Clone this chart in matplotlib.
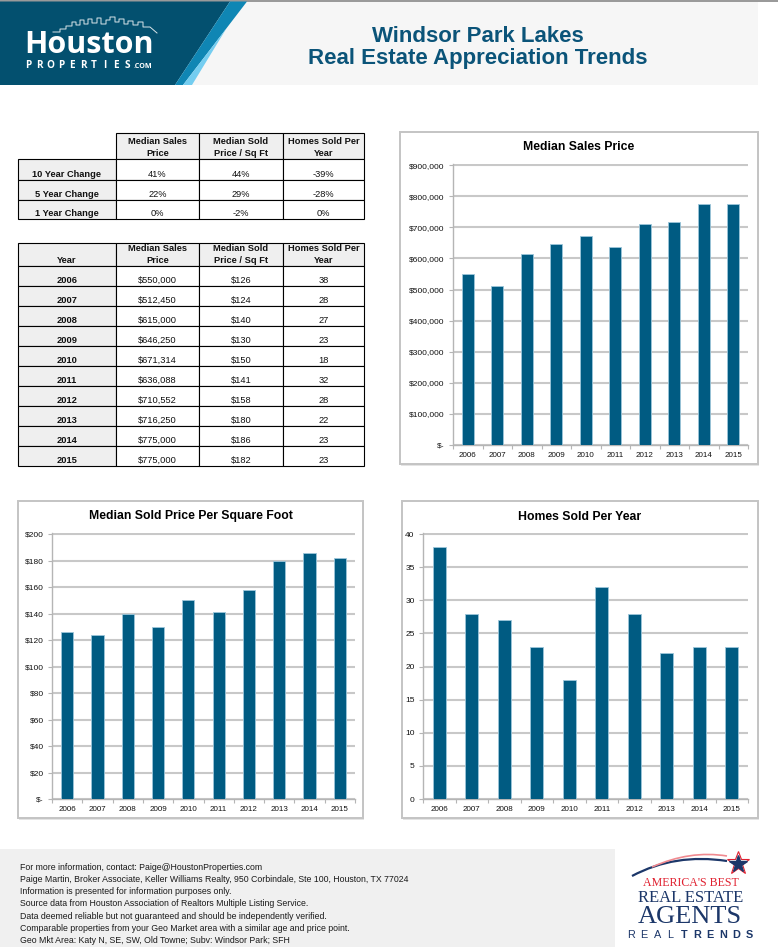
import matplotlib
matplotlib.use("Agg")
import matplotlib.pyplot as plt
from matplotlib.patches import Rectangle, Polygon, PathPatch
from matplotlib.path import Path
from matplotlib.ticker import FuncFormatter, MultipleLocator, FixedLocator
import numpy as np

# ---------------- data ----------------
years = ["2006", "2007", "2008", "2009", "2010", "2011", "2012", "2013", "2014", "2015"]
median_price = [550000, 512450, 615000, 646250, 671314, 636088, 710552, 716250, 775000, 775000]
price_per_sqft = [126, 124, 140, 130, 150, 141, 158, 180, 186, 182]
homes_sold = [38, 28, 27, 23, 18, 32, 28, 22, 23, 23]

change_labels = ["10 Year Change", "5 Year Change", "1 Year Change"]
change_price = [41, 22, 0]
change_sqft = [44, 29, -2]
change_homes = [-39, -28, 0]

column_headers = ["Median Sales\nPrice", "Median Sold\nPrice / Sq Ft", "Homes Sold Per\nYear"]

title_lines = ["Windsor Park Lakes", "Real Estate Appreciation Trends"]
chart_titles = ["Median Sales Price", "Median Sold Price Per Square Foot", "Homes Sold Per Year"]

footer_lines = [
    "For more information, contact: Paige@HoustonProperties.com",
    "Paige Martin, Broker Associate, Keller Williams Realty, 950 Corbindale, Ste 100, Houston, TX 77024",
    "Information is presented for information purposes only.",
    "Source data from Houston Association of Realtors Multiple Listing Service.",
    "Data deemed reliable but not guaranteed and should be independently verified.",
    "Comparable properties from your Geo Market area with a similar age and price point.",
    "Geo Mkt Area: Katy N, SE, SW, Old Towne; Subv: Windsor Park; SFH",
]

# ---------------- style ----------------
W, H = 778, 947
BAR = "#005b82"
TITLE_BLUE = "#0b5479"
TEAL = "#03506f"
SANS = "Liberation Sans"
SERIF = "Liberation Serif"

plt.rcParams["font.family"] = [SANS, "DejaVu Sans"]

fig = plt.figure(figsize=(W / 100, H / 100), dpi=100)
fig.patch.set_facecolor("white")

bg = fig.add_axes([0, 0, 1, 1])
bg.set_xlim(0, W)
bg.set_ylim(H, 0)
bg.axis("off")


def px_rect(x0, y0, x1, y1):
    return [x0 / W, 1 - y1 / H, (x1 - x0) / W, (y1 - y0) / H]


# ---------------- header ----------------
bg.add_patch(Rectangle((0, 1.5), 758, 83.5, facecolor="#f6f6f6", edgecolor="none"))
bg.add_patch(Rectangle((0, 0), W, 1.6, facecolor="#9a9a9a", edgecolor="none"))
bg.add_patch(Polygon([(0, 1.5), (230, 1.5), (175, 85), (0, 85)], closed=True,
                     facecolor=TEAL, edgecolor="none"))
bg.add_patch(Polygon([(230, 1.5), (247, 1.5), (183, 85), (175, 85)], closed=True,
                     facecolor="#0f86b4", edgecolor="none"))
bg.add_patch(Polygon([(226.7, 28), (183, 85), (192, 85)], closed=True,
                     facecolor="#74cdf0", edgecolor="none"))

# skyline outline (decoration)
sky_x = [53, 60, 60, 66, 66, 72, 72, 76, 76, 80, 80, 84, 84, 88, 88, 92, 92, 97, 97, 101, 101,
         106, 106, 110, 110, 115, 115, 119, 119, 124, 124, 128, 128, 133, 133, 138, 138, 143,
         143, 150, 157]
sky_y = [32, 32, 29, 29, 26, 26, 22, 22, 25, 25, 20, 20, 24, 24, 19, 19, 23, 23, 18, 18, 24,
         24, 20, 20, 17, 17, 22, 22, 19, 19, 24, 24, 21, 21, 25, 25, 22, 22, 27, 27, 33]
bg.plot(sky_x, sky_y, color="white", lw=0.7, alpha=0.85)

bg.text(24, 53, "Houston", fontsize=22, weight="bold", color="white",
        family="Open Sans", va="baseline", ha="left")
for i, ch in enumerate("PROPERTIES"):
    bg.text(28 + i * 11.0, 67.5, ch, fontsize=7.2, weight="bold", color="white",
            family="Open Sans", va="baseline", ha="center")
bg.text(134, 67.5, ".COM", fontsize=5.2, weight="bold", color="white",
        family="Open Sans", va="baseline", ha="left")

bg.text(478, 36, title_lines[0], fontsize=16, weight="bold", color=TITLE_BLUE,
        ha="center", va="center", family=SANS)
bg.text(478, 58, title_lines[1], fontsize=16, weight="bold", color=TITLE_BLUE,
        ha="center", va="center", family=SANS)


# ---------------- tables ----------------
def draw_table(x_edges, y_edges, rows, blank_corner):
    for r in range(len(rows)):
        for c in range(len(rows[r])):
            if blank_corner and r == 0 and c == 0:
                continue
            x0, x1 = x_edges[c], x_edges[c + 1]
            y0, y1 = y_edges[r], y_edges[r + 1]
            face = "#efefef" if (r == 0 or c == 0) else "white"
            bg.add_patch(Rectangle((x0, y0), x1 - x0, y1 - y0, facecolor=face,
                                   edgecolor="black", lw=0.8))
            bold = (r == 0 or c == 0)
            lines = rows[r][c].split("\n")
            base = y1 - 3.5
            for k, line in enumerate(reversed(lines)):
                bg.text((x0 + x1) / 2, base - k * 11.5, line, ha="center", va="baseline",
                        fontsize=6.7, weight="bold" if bold else "normal", color="#111111")


col_edges = [18, 116, 199, 283, 364]

t1_rows = [[""] + column_headers]
for lab, a, b, c in zip(change_labels, change_price, change_sqft, change_homes):
    t1_rows.append([lab, f"{a}%", f"{b}%", f"{c}%"])
draw_table(col_edges, [133, 159, 180, 200, 219], t1_rows, blank_corner=True)

t2_rows = [["Year"] + column_headers]
for y, p, s, h in zip(years, median_price, price_per_sqft, homes_sold):
    t2_rows.append([y, f"${p:,}", f"${s}", f"{h}"])
t2_edges = [243] + [266 + 20 * i for i in range(len(years) + 1)]
draw_table(col_edges, t2_edges, t2_rows, blank_corner=False)


# ---------------- charts ----------------
def money(v, pos=None):
    return "$-" if v == 0 else f"${v:,.0f}"


def plain(v, pos=None):
    return f"{v:.0f}"


def bar_chart(plot_px, frame_px, title, title_y, values, ymax, step, fmt):
    fx0, fy0, fx1, fy1 = frame_px
    # shadow + frame
    bg.add_patch(Rectangle((fx0 + 1.5, fy0 + 1.5), fx1 - fx0, fy1 - fy0,
                           facecolor="#e4e4e4", edgecolor="none"))
    bg.add_patch(Rectangle((fx0, fy0), fx1 - fx0, fy1 - fy0, facecolor="white",
                           edgecolor="#c4c4c4", lw=1.4))
    bg.text((fx0 + fx1) / 2, title_y, title, ha="center", va="center", fontsize=8.8,
            weight="bold", color="black")

    ax = fig.add_axes(px_rect(*plot_px))
    ax.patch.set_alpha(0)
    x = np.arange(len(years))
    ax.bar(x, values, width=0.4, color=BAR, edgecolor="#9cc6da", linewidth=0.6, zorder=3)
    ax.set_xlim(-0.5, len(years) - 0.5)
    ax.set_ylim(0, ymax * 1.004)
    ax.yaxis.set_major_locator(MultipleLocator(step))
    ax.yaxis.set_major_formatter(FuncFormatter(fmt))
    ax.set_xticks(x)
    ax.set_xticklabels(years)
    ax.xaxis.set_minor_locator(FixedLocator(np.arange(-0.5, len(years), 1.0)))
    ax.tick_params(axis="x", which="major", length=0, pad=5, labelsize=5.8, labelcolor="#111111")
    ax.tick_params(axis="x", which="minor", length=3, width=0.8, color="#b5b5b5", direction="out")
    ax.tick_params(axis="y", length=3, width=0.8, color="#b5b5b5", pad=3, labelsize=6,
                   labelcolor="#111111")
    ax.grid(axis="y", color="#c8c8c8", lw=1.5, zorder=0)
    ax.set_axisbelow(True)
    for s in ["top", "right"]:
        ax.spines[s].set_visible(False)
    for s in ["left", "bottom"]:
        ax.spines[s].set_color("#b5b5b5")
        ax.spines[s].set_linewidth(1.0)
    return ax


bar_chart((453, 164, 748, 445), (400, 132, 758, 464), chart_titles[0], 147,
          median_price, 900000, 100000, money)
bar_chart((52, 533, 355, 799), (18, 501, 363, 818), chart_titles[1], 516,
          price_per_sqft, 200, 20, money)
bar_chart((423, 533, 748, 799), (402, 501, 758, 818), chart_titles[2], 517,
          homes_sold, 40, 5, plain)

# ---------------- footer ----------------
bg.add_patch(Rectangle((0, 849), 615, H - 849, facecolor="#f0f0f0", edgecolor="none"))
for i, line in enumerate(footer_lines):
    bg.text(20, 870 + i * 12.15, line, fontsize=6.35, color="#1a1a1a", va="baseline", ha="left")

# America's Best logo (decoration)
swoosh_navy = Path([(632, 876), (675, 853), (727, 861)], [Path.MOVETO, Path.CURVE3, Path.CURVE3])
swoosh_red = Path([(652, 867), (690, 850), (727, 856)], [Path.MOVETO, Path.CURVE3, Path.CURVE3])
bg.add_patch(PathPatch(swoosh_navy, facecolor="none", edgecolor="#1c3769", lw=1.6))
bg.add_patch(PathPatch(swoosh_red, facecolor="none", edgecolor="#f08a90", lw=1.2))
bg.plot([738], [863], marker="*", markersize=17, color="white", markeredgecolor="#e0202f",
        markeredgewidth=0.8)
bg.plot([738], [864], marker="*", markersize=13, color="#1c3769")

bg.text(691, 886, "AMERICA'S BEST", fontsize=8.6, color="#e0202f", family=SERIF,
        ha="center", va="baseline")
bg.text(691, 902, "REAL ESTATE", fontsize=12, color="#1c3769", family=SERIF,
        ha="center", va="baseline")
bg.text(690, 922.5, "AGENTS", fontsize=19, color="#1c3769", family=SERIF,
        ha="center", va="baseline")
for i, ch in enumerate("REALTRENDS"):
    bg.text(631 + i * 13.2, 938, ch, fontsize=7.8, color="#1c3769", ha="center", va="baseline",
            weight="bold" if i >= 4 else "normal", family=SANS)

fig.savefig("out.png", dpi=100)
